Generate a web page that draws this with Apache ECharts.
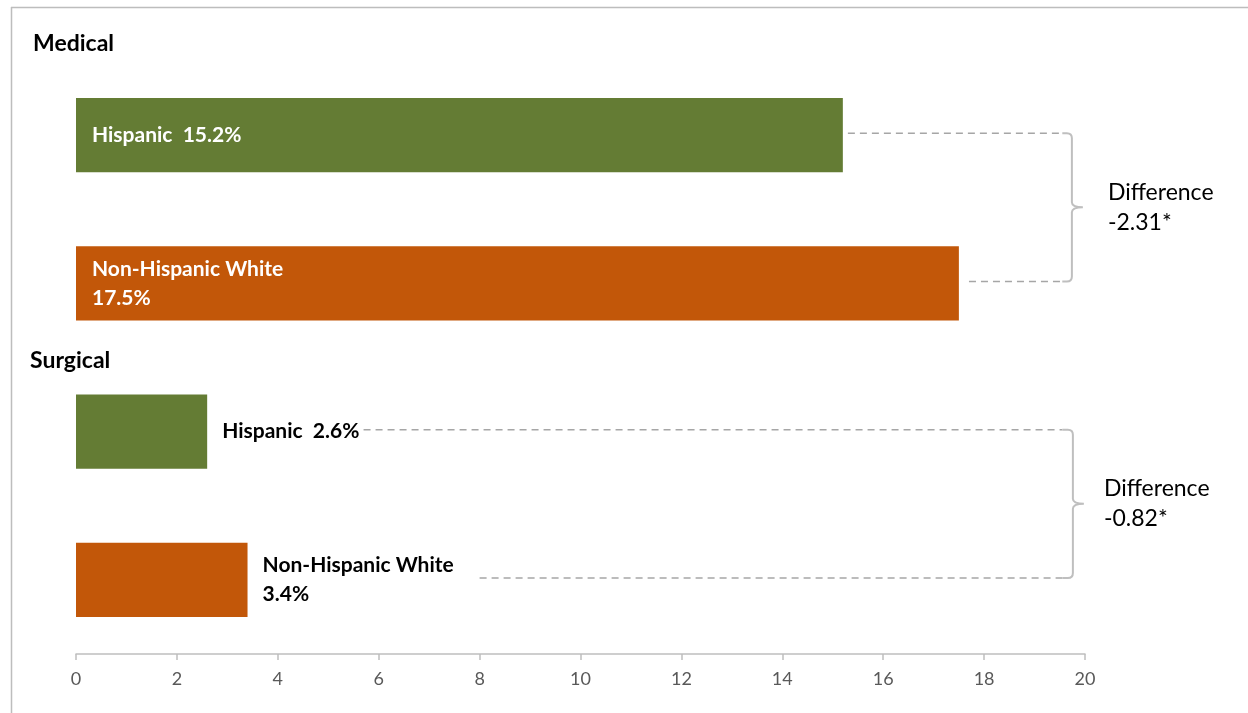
<!DOCTYPE html>
<html>
<head>
<meta charset="utf-8">
<script src="https://cdn.jsdelivr.net/npm/echarts@6/dist/echarts.min.js"></script>
<style>html,body{margin:0;padding:0;background:#fff;}#c{width:1248px;height:713px;}</style>
</head>
<body>
<div id="c"></div>
<script>
// Data
var categories = ['Medical Hispanic', 'Medical Non-Hispanic White', 'Surgical Hispanic', 'Surgical Non-Hispanic White'];
var groupNames = ['Hispanic', 'Non-Hispanic White', 'Hispanic', 'Non-Hispanic White'];
var values = [15.2, 17.5, 2.6, 3.4];
var sections = ['Medical', 'Surgical'];
var differences = ['-2.31*', '-0.82*'];
var xTicks = [0, 2, 4, 6, 8, 10, 12, 14, 16, 18, 20];
// annotation anchors (value positions where dashed leaders begin)
var leaderStarts = [15.3, 17.7, 5.7, 8.0];

var GREEN = '#647C34', ORANGE = '#C25709';
var FONT = 'Lato, "Open Sans", sans-serif';

var barData = values.map(function (v, i) {
  var medical = i < 2;
  var hisp = i % 2 === 0;
  var txt = hisp ? groupNames[i] + '  ' + v.toFixed(1) + '%' : groupNames[i] + '\n' + v.toFixed(1) + '%';
  return {
    value: v,
    itemStyle: { color: hisp ? GREEN : ORANGE },
    label: {
      show: true,
      position: medical ? 'insideLeft' : 'right',
      distance: medical ? 16 : 15,
      formatter: txt,
      color: medical ? '#ffffff' : '#000000',
      fontWeight: 'bold',
      fontSize: 21,
      lineHeight: 29,
      fontFamily: FONT,
      align: 'left'
    }
  };
});

var bracketData = [
  [0, 1, leaderStarts[0], leaderStarts[1], 0],
  [2, 3, leaderStarts[2], leaderStarts[3], 1]
];

var chart = echarts.init(document.getElementById('c'));
chart.setOption({
  animation: false,
  grid: { left: 76, right: 163, top: 61, bottom: 59 },
  xAxis: {
    type: 'value', min: 0, max: 20, interval: 2,
    axisLine: { show: true, lineStyle: { color: '#BFBFBF', width: 1.5 } },
    axisTick: { show: true, length: 6, lineStyle: { color: '#BFBFBF', width: 1.5 } },
    splitLine: { show: false },
    axisLabel: { color: '#595959', fontSize: 18, fontFamily: FONT, margin: 16,
      formatter: function (v) { return xTicks.indexOf(v) >= 0 ? String(v) : ''; } }
  },
  yAxis: {
    type: 'category', data: categories, inverse: true,
    axisLine: { show: false }, axisTick: { show: false }, axisLabel: { show: false }
  },
  graphic: [
    { type: 'line', shape: { x1: 11, y1: 7.5, x2: 1248, y2: 7.5 }, style: { stroke: '#BDBDBD', lineWidth: 1.5 } },
    { type: 'line', shape: { x1: 11.5, y1: 7, x2: 11.5, y2: 713 }, style: { stroke: '#BDBDBD', lineWidth: 1.5 } },
    { type: 'text', left: 33, top: 32, style: { text: sections[0], font: 'bold 23px ' + FONT, fill: '#000' } },
    { type: 'text', left: 30, top: 349, style: { text: sections[1], font: 'bold 23px ' + FONT, fill: '#000' } }
  ],
  series: [
    { type: 'bar', data: barData, barWidth: '50%' },
    {
      type: 'custom',
      data: bracketData,
      silent: true,
      z: 1,
      renderItem: function (params, api) {
        var ca = api.value(0), cb = api.value(1);
        var idx = api.value(4);
        var pa = api.coord([api.value(2), ca]);
        var pb = api.coord([api.value(3), cb]);
        var endX = api.coord([19.55, ca])[0];
        var bx = api.coord([19.74, ca])[0] + (idx === 1 ? 1 : 0);
        var ya = pa[1] - 2, yb = pb[1] - 2;
        var ym = (ya + yb) / 2;
        var r = 5;
        var tipX = bx + 11;
        var path = 'M' + (endX) + ',' + ya +
          ' L' + (bx - r) + ',' + ya +
          ' Q' + bx + ',' + ya + ' ' + bx + ',' + (ya + r) +
          ' L' + bx + ',' + (ym - r) +
          ' Q' + bx + ',' + ym + ' ' + tipX + ',' + ym +
          ' Q' + bx + ',' + ym + ' ' + bx + ',' + (ym + r) +
          ' L' + bx + ',' + (yb - r) +
          ' Q' + bx + ',' + yb + ' ' + (bx - r) + ',' + yb +
          ' L' + endX + ',' + yb;
        return {
          type: 'group',
          children: [
            { type: 'line', shape: { x1: pa[0], y1: ya, x2: endX, y2: ya },
              style: { stroke: '#A6A6A6', lineWidth: 1.5, lineDash: [7, 5] } },
            { type: 'line', shape: { x1: pb[0], y1: yb, x2: endX, y2: yb },
              style: { stroke: '#A6A6A6', lineWidth: 1.5, lineDash: [7, 5] } },
            { type: 'path', shape: { pathData: path },
              style: { stroke: '#BFBFBF', lineWidth: 2, fill: null } },
            { type: 'text', x: bx + (idx === 0 ? 36 : 31), y: ym,
              style: { text: 'Difference\n' + differences[idx], font: '23px ' + FONT,
                fill: '#000', textVerticalAlign: 'middle', verticalAlign: 'middle', lineHeight: 30 } }
          ]
        };
      }
    }
  ]
});
</script>
</body>
</html>
